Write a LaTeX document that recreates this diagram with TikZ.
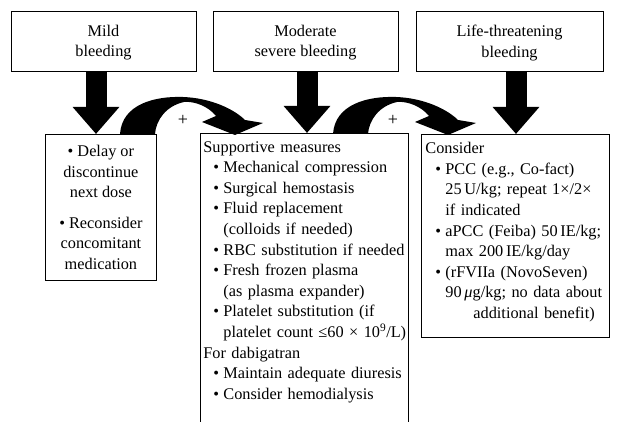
\documentclass[tikz,border=0pt]{standalone}
\usepackage{fontspec}
\setmainfont{Liberation Serif}
\usetikzlibrary{positioning}
\usetikzlibrary{calc}
\usetikzlibrary{arrows.meta}

% bullet and continuation indents
\newcommand\itm{\hspace*{10pt}\makebox[10pt][l]{\textbullet}}
\newcommand\cnt{\hspace*{20pt}}
% the bent block arrow between two boxes
\newcommand\bendarrow[1]{%
  \fill [shift={(#1)}] (0,0) .. controls (2,-30) and (35,-38) .. (63,-37)
    .. controls (92,-36) and (115,-24) .. (125,-14) -- (143,-11) -- (115,1)
    -- (82,-12) -- (96,-18) .. controls (88,-28) and (74,-33) .. (64,-32)
    .. controls (46,-28) and (36,-14) .. (35,0) -- cycle;}

\begin{document}
\begin{tikzpicture}
 [ x=1pt, y=-1pt
 , font=\fontsize{16.3}{20.6}\selectfont
 , grade/.style={draw, line width=0.8pt, minimum width=185pt, minimum height=60pt, align=center, text depth=-2.5pt}
 , action/.style={line width=0.8pt, inner xsep=3pt, inner ysep=8pt, anchor=north west}
 , down/.style={line width=21pt, -{Triangle[width=45pt,length=27pt]}}
 , sign/.style={font=\fontsize{18}{18}\selectfont, inner sep=0pt}
 ]
  \useasboundingbox (0,0) rectangle (619,422);

  % severity
  \node [grade] (mild) at (103.5,41) {Mild\\bleeding};
  \node [grade] (moderate) at (305.5,41) {Moderate\\severe bleeding};
  \node [grade, minimum width=187pt] (life) at (509.5,41) {Life-threatening\\bleeding};

  % measures
  \node [action, draw, align=center, minimum width=111pt, minimum height=146pt] (mildact) at (45,134)
    {\textbullet\ Delay or\\ discontinue\\ next dose\\[10pt]
     \textbullet\ Reconsider\\ concomitant\\ medication};
  \node [action, text width=202pt, align=left] (modact) at (200,133)
    {Supportive measures\\
     \itm Mechanical compression\\
     \itm Surgical hemostasis\\
     \itm Fluid replacement\\
     \cnt (colloids if needed)\\
     \itm RBC substitution if needed\\
     \itm Fresh frozen plasma\\
     \cnt (as plasma expander)\\
     \itm Platelet substitution (if\\
     \cnt\mbox{platelet count ≤60 × 10\textsuperscript{9}/L)}\\
     For dabigatran\\
     \itm Maintain adequate diuresis\\
     \itm Consider hemodialysis};
  \draw [line width=0.8pt] ([yshift=-30pt]modact.south west) -- (modact.north west)
    -- (modact.north east) -- ([yshift=-30pt]modact.south east);
  \node [action, draw, inner xsep=4pt, text width=180pt, align=left] (lifeact) at (421,134)
    {Consider\\
     \itm PCC (e.g., Co-fact)\\
     \cnt 25\,U/kg; repeat 1×/2×\\
     \cnt if indicated\\
     \itm aPCC (Feiba) 50\,IE/kg;\\
     \cnt max 200\,IE/kg/day\\
     \itm (rFVIIa (NovoSeven)\\
     \cnt 90\,\textit{μ}g/kg; no data about\\
     \hspace*{48pt}additional benefit)\rule[-11pt]{0pt}{11pt}};

  % straight arrows
  \draw [down] ([xshift=-7.5pt]mild.south) -- ([xshift=-7.5pt]mild.south |- mildact.north);
  \draw [down] ([xshift=1.5pt]moderate.south) -- ([xshift=1.5pt]moderate.south |- modact.north);
  \draw [down] ([xshift=6.5pt]life.south) -- ([xshift=6.5pt]life.south |- lifeact.north);

  % bent arrows
  \coordinate (bend1) at (120,134);
  \coordinate (bend2) at (333,134);
  \bendarrow{bend1}
  \bendarrow{bend2}
  \node [sign] (plus1) at (183,120) {+};
  \node [sign] (plus2) at (393,120) {+};
\end{tikzpicture}
\end{document}
